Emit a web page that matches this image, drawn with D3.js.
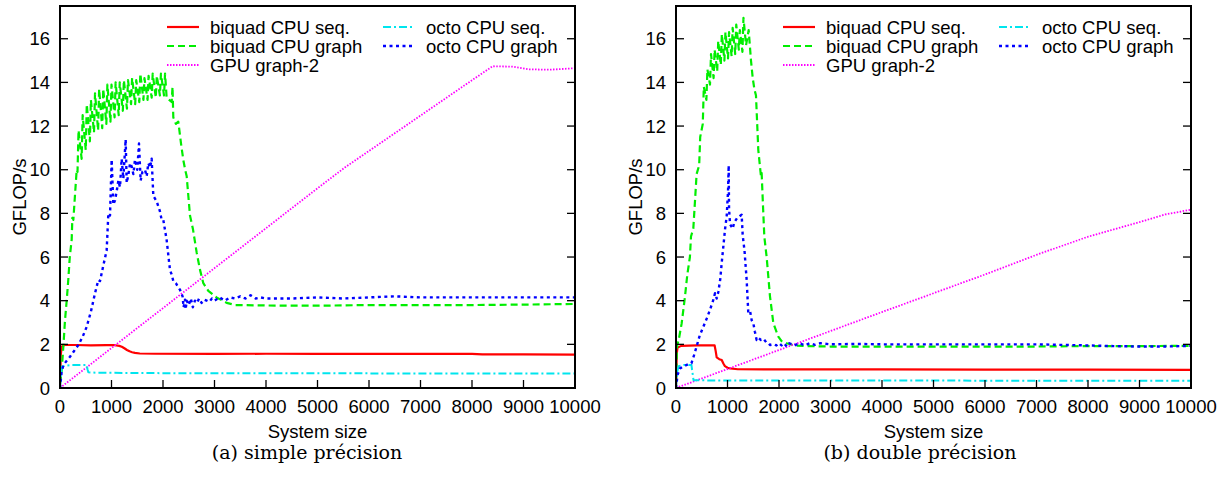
<!DOCTYPE html>
<html><head><meta charset="utf-8">
<script src="https://cdn.jsdelivr.net/npm/d3@7"></script>
<style>body{margin:0;background:#fff}svg{display:block}</style>
</head><body>
<svg id="c" width="1231" height="480"></svg>
<script>
// ---------- axis ticks ----------
const xTicks = [0,1000,2000,3000,4000,5000,6000,7000,8000,9000,10000];
const yTicks = [0,2,4,6,8,10,12,14,16];
const xLabel = "System size";
const yLabel = "GFLOP/s";
const seriesNames = ["biquad CPU seq.","biquad CPU graph","GPU graph-2","octo CPU seq.","octo CPU graph"];
const captions = ["(a) simple précision","(b) double précision"];

// ---------- (a) simple precision ----------
const spBiquadSeqX = [0,15,33,60,97,300,600,900,1068,1150,1200,1250,1300,1350,1400,1456,1550,1845,3000,4000,5000,6000,7000,8000,8200,9000,10000];
const spBiquadSeqY = [0,1.5,1.9,1.95,1.97,1.97,1.95,1.96,1.96,1.93,1.89,1.82,1.74,1.68,1.64,1.61,1.58,1.57,1.56,1.57,1.56,1.56,1.56,1.56,1.54,1.54,1.53];

const spBiquadGraphX = [0,33,65,97,130,162,190,227,240,259,290,324,
 340,360,420,440,500,520,580,600,660,680,740,760,820,840,900,920,980,1000,1060,1080,1140,1160,1220,1240,1300,1320,1380,1400,1460,1480,1540,1560,1620,1640,1700,1720,1780,1800,1860,1880,1940,1960,2020,2040,
 2071,2120,2168,2185,2200,2250,2297,2350,2394,2430,2460,2524,2580,2654,2720,2783,2880,3040,3236,3400,4000,5000,6000,7000,8000,9000,10000];
const spBiquadGraphY = [0.2,0.8,1.9,3.1,4.0,5.0,6.0,6.8,7.8,7.7,8.8,10.0,
 9.9,11.8,10.5,12.5,10.9,13.0,11.3,13.2,11.7,13.5,11.8,13.7,11.9,13.7,12.1,13.9,12.2,13.9,12.4,14.0,12.5,14.0,12.7,14.1,12.8,14.1,13.0,14.2,13.0,14.1,13.1,14.4,13.2,14.2,13.2,14.3,13.3,14.4,13.3,14.3,13.4,14.4,13.4,14.4,
 13.3,13.2,13.1,13.8,12.4,12.1,12.2,11.2,10.45,10.0,9.7,7.9,7.3,6.2,5.4,4.8,4.45,4.15,3.9,3.8,3.78,3.77,3.8,3.8,3.8,3.82,3.85];

const spGpuX = [0,1000,2000,3000,4000,5000,5530,6000,7000,8000,8400,8800,9100,9500,10000];
const spGpuY = [0,1.83,3.66,5.49,7.32,9.15,10.1,10.86,12.48,14.1,14.74,14.72,14.6,14.58,14.65];

const spOctoSeqX = [0,20,40,100,227,400,518,535,550,700,2000,4000,6000,8000,10000];
const spOctoSeqY = [0,0.7,0.98,1.02,1.05,1.05,1.06,0.85,0.72,0.7,0.68,0.68,0.67,0.67,0.66];

const spOctoGraphX = [0,30,65,130,194,260,356,440,518,600,680,744,777,840,906,939,971,1003,1036,1068,1100,1133,1165,1197,1230,1275,1295,1330,1360,1392,1424,1456,1500,1534,1566,1600,1650,1683,1715,1750,1780,1812,1877,1940,1974,2006,2070,2136,2168,2200,2250,2300,2330,2380,2400,2427,2440,2460,2500,2540,2580,2620,2660,2700,2750,2800,2850,2900,2950,3000,3100,3200,3300,3400,3500,3600,3700,3800,3900,4000,4500,5000,5500,6000,6500,7000,7500,8000,8500,9000,9500,10000];
const spOctoGraphY = [0,0.7,1.05,1.25,1.43,1.65,1.97,2.35,2.8,3.5,4.34,4.95,4.9,5.6,6.3,8.0,7.9,10.46,8.4,8.6,9.0,9.5,9.2,10.5,9.6,11.38,9.4,9.8,10.3,10.15,9.8,10.46,10.0,11.2,9.5,9.9,10.0,9.7,10.3,10.1,10.5,8.8,8.55,8.1,7.7,7.7,6.8,5.4,5.2,4.9,4.8,4.6,4.5,4.2,3.7,4.05,3.6,4.0,3.8,4.1,3.7,4.0,3.9,4.1,3.9,4.05,4.0,3.95,4.1,4.0,4.15,4.0,4.15,4.1,4.2,4.1,4.25,4.1,4.15,4.1,4.1,4.15,4.1,4.15,4.2,4.15,4.15,4.15,4.15,4.15,4.15,4.15];

// ---------- (b) double precision ----------
const dpBiquadSeqX = [0,15,30,100,400,750,770,790,840,888,920,950,1000,1050,1200,2000,4000,6000,8000,10000];
const dpBiquadSeqY = [0,1.6,1.85,1.93,1.95,1.95,1.7,1.4,1.32,1.28,1.12,1.0,0.93,0.9,0.86,0.85,0.85,0.84,0.84,0.83];

const dpBiquadGraphX = [0,20,60,110,175,220,270,291,336,
 380,400,450,470,520,540,590,610,660,680,730,750,800,820,870,890,940,960,1010,1030,1080,1100,1150,1170,1220,1240,1290,1310,1360,1411,
 1456,1490,1521,1553,1598,1650,1663,1690,1715,1760,1825,1890,1987,2050,2150,2300,2500,3000,4000,5000,6000,7000,8000,9000,10000];
const dpBiquadGraphY = [0.3,1.9,2.3,2.96,4.2,5.2,6.0,6.94,7.3,
 9.0,9.8,10.2,11.5,12.1,13.8,13.2,14.6,13.9,15.3,14.2,15.5,14.5,15.9,14.8,16.2,15.0,16.3,15.1,16.3,15.2,16.5,15.3,16.65,15.5,16.4,15.4,16.96,15.7,16.4,
 15.0,14.2,13.7,13.4,10.9,9.7,9.85,8.3,6.94,6.0,4.2,2.97,2.35,2.15,2.05,1.95,1.92,1.9,1.9,1.9,1.9,1.9,1.92,1.92,1.93];

const dpGpuX = [0,2000,4000,6000,7000,8000,9000,9500,10000];
const dpGpuY = [0,1.74,3.48,5.2,6.1,6.93,7.6,7.95,8.17];

const dpOctoSeqX = [0,20,50,150,300,320,340,500,2000,5000,8000,10000];
const dpOctoSeqY = [0,0.7,1.0,1.05,1.05,0.7,0.36,0.35,0.34,0.34,0.33,0.33];

const dpOctoGraphX = [0,30,78,150,250,300,350,400,460,530,600,660,720,757,790,822,860,887,920,951,984,1010,1023,1030,1050,1100,1133,1190,1230,1275,1295,1330,1372,1404,1440,1470,1501,1530,1566,1600,1650,1700,1750,1800,1825,1900,1950,2000,2050,2100,2150,2200,2300,2400,2500,2600,2700,2800,3000,3500,4000,5000,6000,7000,8000,8500,9000,9500,10000];
const dpOctoGraphY = [0,0.6,0.9,1.0,1.1,1.13,1.5,1.9,2.4,2.8,3.2,3.58,4.0,4.34,4.1,4.4,5.0,5.72,6.5,7.25,7.86,9.0,10.2,8.2,7.5,7.3,7.6,7.8,7.86,7.94,7.0,6.3,4.95,3.43,3.5,3.1,2.97,2.6,2.2,2.3,2.2,2.25,2.1,2.05,1.97,2.0,1.95,2.05,1.95,2.05,1.9,2.05,1.95,2.05,1.95,2.05,1.98,2.05,2.0,2.02,2.0,2.0,2.0,2.0,1.95,1.92,1.9,1.9,1.93];

// ---------- styles ----------
const styles = [
  {color:"#ff0000", width:2.2, dash:null},
  {color:"#00ee00", width:2.2, dash:"7,4"},
  {color:"#ff00ff", width:1.8, dash:"1.5,1.5"},
  {color:"#00e5ee", width:2, dash:"8,3,2,3"},
  {color:"#0000ff", width:2.4, dash:"3,3.5"}
];

const panels = [
  {left:60, right:575, caption:captions[0], captionX:307,
   series:[[spBiquadSeqX,spBiquadSeqY],[spBiquadGraphX,spBiquadGraphY],[spGpuX,spGpuY],[spOctoSeqX,spOctoSeqY],[spOctoGraphX,spOctoGraphY]]},
  {left:676, right:1191, caption:captions[1], captionX:920,
   series:[[dpBiquadSeqX,dpBiquadSeqY],[dpBiquadGraphX,dpBiquadGraphY],[dpGpuX,dpGpuY],[dpOctoSeqX,dpOctoSeqY],[dpOctoGraphX,dpOctoGraphY]]}
];

const svg = d3.select("#c");
const plotTop = 6, plotBottom = 388;
const FONT = "'Liberation Sans', Arial, Helvetica, sans-serif";
const FS = 18.5;

panels.forEach((p, pi) => {
  const x = d3.scaleLinear().domain([0,10000]).range([p.left, p.right]);
  const y = d3.scaleLinear().domain([0,17.5]).range([plotBottom, plotTop]);
  const g = svg.append("g");

  const clipId = "clip"+pi;
  svg.append("clipPath").attr("id", clipId).append("rect")
    .attr("x", p.left).attr("y", plotTop).attr("width", p.right-p.left).attr("height", plotBottom-plotTop);

  const line = d3.line().x(d => x(d[0])).y(d => y(d[1]));
  p.series.forEach((s, i) => {
    const st = styles[i];
    g.append("path").datum(d3.zip(s[0], s[1]))
      .attr("clip-path", `url(#${clipId})`)
      .attr("d", line).attr("fill","none")
      .attr("stroke", st.color).attr("stroke-width", st.width)
      .attr("stroke-linejoin","round")
      .attr("stroke-dasharray", st.dash);
  });

  const tg = g.append("g").attr("stroke","#000").attr("stroke-width",1.3);
  yTicks.forEach(t => {
    tg.append("line").attr("x1", p.left).attr("x2", p.left+8).attr("y1", y(t)).attr("y2", y(t));
    tg.append("line").attr("x1", p.right).attr("x2", p.right-8).attr("y1", y(t)).attr("y2", y(t));
  });
  xTicks.forEach(t => {
    tg.append("line").attr("x1", x(t)).attr("x2", x(t)).attr("y1", plotBottom).attr("y2", plotBottom-8);
  });

  g.append("rect").attr("x", p.left).attr("y", plotTop).attr("width", p.right-p.left).attr("height", plotBottom-plotTop)
    .attr("fill","none").attr("stroke","#000").attr("stroke-width",2);

  yTicks.forEach(t => {
    g.append("text").attr("x", p.left-10).attr("y", y(t)+6.5).attr("text-anchor","end")
      .attr("font-family", FONT).attr("font-size", FS).text(t);
  });
  xTicks.forEach(t => {
    g.append("text").attr("x", x(t)).attr("y", 413).attr("text-anchor","middle")
      .attr("font-family", FONT).attr("font-size", FS).text(t);
  });

  g.append("text").attr("x", (p.left+p.right)/2).attr("y", 438).attr("text-anchor","middle")
    .attr("font-family", FONT).attr("font-size", FS).text(xLabel);
  g.append("text").attr("transform", `translate(${p.left-34},197) rotate(-90)`).attr("text-anchor","middle")
    .attr("font-family", FONT).attr("font-size", FS).text(yLabel);

  const rows = [27, 46, 65];
  const legendPos = [[0,0],[0,1],[0,2],[1,0],[1,1]];
  legendPos.forEach((lp, i) => {
    const st = styles[i];
    const sx = p.left + (lp[0] ? 323 : 107);
    const ry = rows[lp[1]];
    g.append("line").attr("x1", sx).attr("x2", sx+32).attr("y1", ry).attr("y2", ry)
      .attr("stroke", st.color).attr("stroke-width", st.width).attr("stroke-dasharray", st.dash);
    g.append("text").attr("x", sx+43).attr("y", ry+6.5)
      .attr("font-family", FONT).attr("font-size", FS).text(seriesNames[i]);
  });

  g.append("text").attr("x", p.captionX).attr("y", 459).attr("text-anchor","middle")
    .attr("font-family", "'DejaVu Serif', 'Liberation Serif', serif").attr("font-size", 19).text(p.caption);
});
</script>
</body></html>
